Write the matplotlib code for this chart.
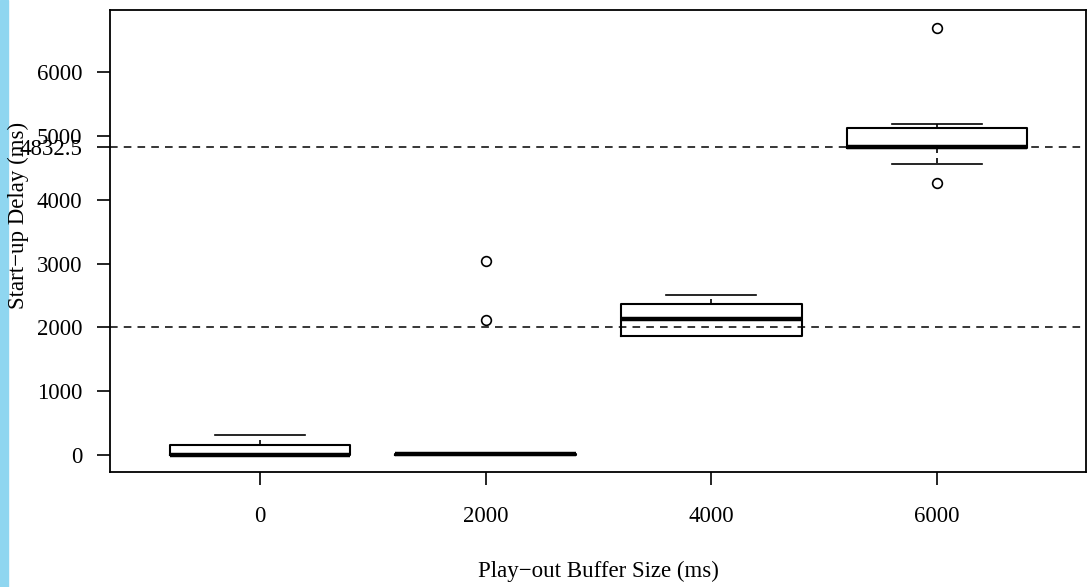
import matplotlib
matplotlib.use("Agg")
from matplotlib import pyplot as plt
from matplotlib.patches import Rectangle

# buffer sizes (ms) and box statistics
buffers = [0, 2000, 4000, 6000]
whis_lo = [0, 0, 1870, 4566]
q1 = [0, 0, 1870, 4808]
med = [0, 10, 2131, 4832.5]
q3 = [160, 15, 2362, 5130]
whis_hi = [320, 20, 2503, 5183]
outliers = [[], [2116, 3040], [], [4258, 6693]]

ref_lines = [2000, 4832.5]
yticks = [0, 1000, 2000, 3000, 4000, 4832.5, 5000, 6000]
ytick_labels = ["0", "1000", "2000", "3000", "4000", "4832.5", "5000", "6000"]

plt.rcParams['font.family'] = ['Liberation Serif', 'DejaVu Serif']

fig = plt.figure(figsize=(10.88, 5.87), dpi=100)
ax = fig.add_axes([0.1011, 0.196, 0.897, 0.787])

stats = []
for i in range(len(buffers)):
    stats.append({
        'whislo': whis_lo[i], 'q1': q1[i], 'med': med[i],
        'q3': q3[i], 'whishi': whis_hi[i], 'fliers': outliers[i],
    })

ax.bxp(stats, positions=buffers, widths=1600, capwidths=800,
       showfliers=True, patch_artist=False,
       boxprops=dict(color='black', linewidth=1.5),
       medianprops=dict(color='black', linewidth=3.2, solid_capstyle='butt'),
       whiskerprops=dict(color='black', linewidth=1.2, linestyle=(0, (3, 3))),
       capprops=dict(color='black', linewidth=1.2),
       flierprops=dict(marker='o', markerfacecolor='none', markeredgecolor='black',
                       markersize=7, markeredgewidth=1.2))

for v in ref_lines:
    ax.axhline(v, color='black', linewidth=1.1, linestyle=(0, (5, 4)), zorder=0)

ax.set_xlim(-1329, 7320)
ax.set_ylim(-266, 6975)
ax.set_xticks(buffers)
ax.set_xticklabels([str(b) for b in buffers])
ax.set_yticks(yticks)
ax.set_yticklabels(ytick_labels)
ax.tick_params(axis='both', labelsize=16.5, length=9.5, width=1.2, direction='out')
ax.tick_params(axis='x', pad=15)
ax.tick_params(axis='y', pad=10.5)

for s in ax.spines.values():
    s.set_linewidth(1.3)

ax.set_xlabel("Play\u2212out Buffer Size (ms)", fontsize=16.5)
ax.xaxis.set_label_coords(0.5, -0.192)
ax.set_ylabel("Start\u2212up Delay (ms)", fontsize=16.5)
ax.yaxis.set_label_coords(-0.083, 0.556)

# light blue strip at the left edge of the slide
fig.patches.append(Rectangle((0, 0), 8 / 1088, 1, transform=fig.transFigure,
                             color='#8fd6f0', zorder=-1))

fig.savefig("out.png", dpi=100)
